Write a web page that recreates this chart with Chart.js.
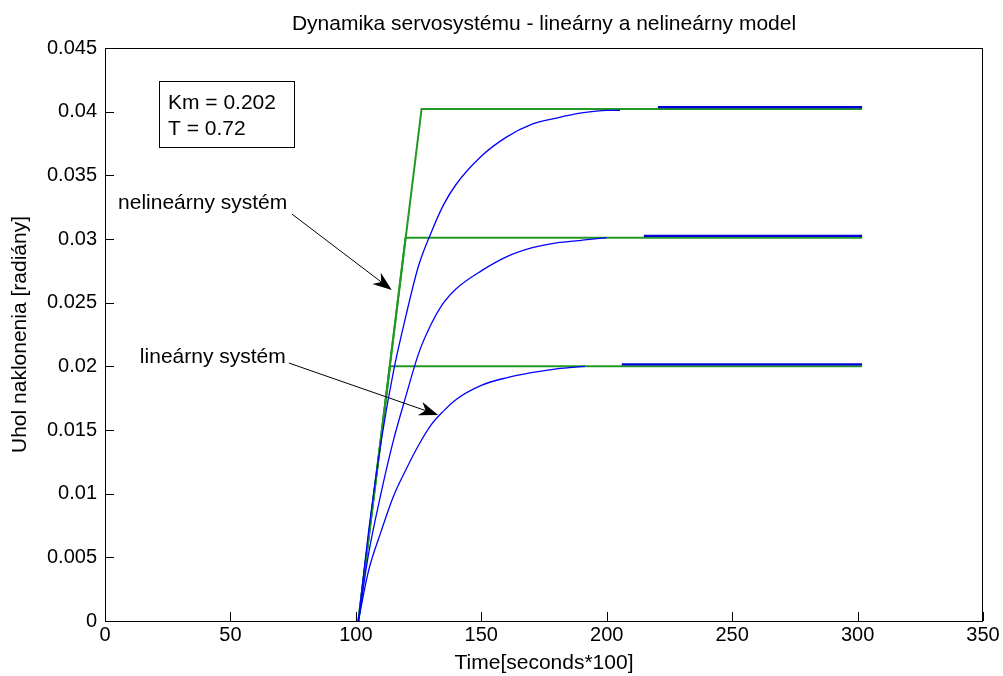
<!DOCTYPE html>
<html>
<head>
<meta charset="utf-8">
<title>Dynamika servosystému</title>
<script src="https://cdn.jsdelivr.net/npm/chart.js@4.4.1/dist/chart.umd.min.js"></script>
<style>
  html, body { margin: 0; padding: 0; background: #fff; }
  canvas { display: block; }
</style>
</head>
<body>
<canvas id="servoChart" width="1003" height="676"></canvas>
<script>
// nelineárny systém (green) - rate limited ramp, then flat
const nonlinTopX = [101, 126.2, 301.8];
const nonlinTopY = [0, 0.0402, 0.0402];
const nonlinMidX = [101, 119.8, 301.8];
const nonlinMidY = [0, 0.0301, 0.0301];
const nonlinLowX = [101, 113.6, 301.8];
const nonlinLowY = [0, 0.0200, 0.0200];

// lineárny systém (blue)
const linTopX = [101, 103, 105, 110, 115, 120, 125, 130, 135, 140, 150, 160, 170, 180, 190, 200, 205.3];
const linTopY = [0, 0.0035, 0.0069, 0.0140, 0.0196, 0.0240, 0.0279, 0.0305, 0.0327, 0.0343, 0.0365, 0.0380, 0.0390, 0.0395, 0.0399, 0.0401, 0.0401];
const linMidX = [101, 105, 110, 115, 120, 125, 130, 135, 140, 150, 160, 170, 180, 190, 200];
const linMidY = [0, 0.0052, 0.0100, 0.0142, 0.0177, 0.0210, 0.0233, 0.0250, 0.0261, 0.0275, 0.0286, 0.0293, 0.0297, 0.0299, 0.0301];
const linLowX = [101, 105, 110, 115, 120, 125, 130, 135, 140, 150, 160, 170, 180, 191.3];
const linLowY = [0, 0.0039, 0.0070, 0.0098, 0.0119, 0.0138, 0.0154, 0.0165, 0.0174, 0.0185, 0.0191, 0.0195, 0.0198, 0.0200];

// flat ends of the blue curves (drawn over the green)
const linTopTailX = [220.4, 301.8];
const linTopTailY = [0.04035, 0.04035];
const linMidTailX = [214.8, 301.8];
const linMidTailY = [0.03024, 0.03024];
const linLowTailX = [206, 301.8];
const linLowTailY = [0.02016, 0.02016];

const xTicks = [0, 50, 100, 150, 200, 250, 300, 350];
const xTickLabels = ['0', '50', '100', '150', '200', '250', '300', '350'];
const yTicks = [0, 0.005, 0.01, 0.015, 0.02, 0.025, 0.03, 0.035, 0.04, 0.045];
const yTickLabels = ['0', '0.005', '0.01', '0.015', '0.02', '0.025', '0.03', '0.035', '0.04', '0.045'];

const chartTitle = 'Dynamika servosystému - lineárny a nelineárny model';
const xTitle = 'Time[seconds*100]';
const yTitle = 'Uhol naklonenia [radiány]';
const boxLines = ['Km = 0.202', 'T = 0.72'];

const FONT = "'Liberation Sans', Arial, sans-serif";

// annotation placement in data units
const notes = {
  box: { x0: 21.5, y0: 0.04241, x1: 75.3, y1: 0.03723, textX: 25.1, lineY: [0.04068, 0.03864] },
  arrows: [
    { text: 'nelineárny systém', tx: 5.2, ty: 0.03283, from: [74.5, 0.03196], to: [114.3, 0.0260] },
    { text: 'lineárny systém', tx: 13.9, ty: 0.02073, from: [73.3, 0.02026], to: [132.8, 0.01618] }
  ]
};

function pts(xs, ys) {
  return xs.map((x, i) => ({ x, y: ys[i] }));
}

function line(data, color, width, smooth) {
  return {
    data,
    borderColor: color,
    borderWidth: width,
    pointRadius: 0,
    tension: 0,
    cubicInterpolationMode: smooth ? 'monotone' : 'default',
    fill: false
  };
}

const frame = {
  id: 'frame',
  afterDraw(chart) {
    const { ctx, chartArea: a, scales } = chart;
    ctx.save();
    ctx.strokeStyle = '#000';
    ctx.lineWidth = 1;
    ctx.strokeRect(Math.round(a.left) + 0.5, Math.round(a.top) + 0.5,
      Math.round(a.right - a.left) - 1, Math.round(a.bottom - a.top));

    // inward ticks
    ctx.beginPath();
    xTicks.forEach(v => {
      const px = Math.round(scales.x.getPixelForValue(v)) + 0.5;
      ctx.moveTo(px, a.bottom);
      ctx.lineTo(px, a.bottom - 9);
    });
    yTicks.forEach(v => {
      const py = Math.round(scales.y.getPixelForValue(v)) + 0.5;
      ctx.moveTo(a.left, py);
      ctx.lineTo(a.left + 9, py);
    });
    ctx.stroke();

    // title
    ctx.fillStyle = '#000';
    ctx.font = '21px ' + FONT;
    ctx.textAlign = 'center';
    ctx.textBaseline = 'middle';
    ctx.fillText(chartTitle, (a.left + a.right) / 2, 24);

    // parameter box
    const X = v => scales.x.getPixelForValue(v);
    const Y = v => scales.y.getPixelForValue(v);
    const b = notes.box;
    ctx.strokeRect(Math.round(X(b.x0)) + 0.5, Math.round(Y(b.y0)) + 0.5,
      Math.round(X(b.x1) - X(b.x0)), Math.round(Y(b.y1) - Y(b.y0)));
    ctx.textAlign = 'left';
    boxLines.forEach((t, i) => ctx.fillText(t, X(b.textX), Y(b.lineY[i])));

    // labelled arrows
    notes.arrows.forEach(n => {
      ctx.fillText(n.text, X(n.tx), Y(n.ty));
      const x0 = X(n.from[0]), y0 = Y(n.from[1]);
      const x1 = X(n.to[0]), y1 = Y(n.to[1]);
      const ang = Math.atan2(y1 - y0, x1 - x0);
      const ux = Math.cos(ang), uy = Math.sin(ang);
      const L = 19, W = 7;
      ctx.beginPath();
      ctx.moveTo(x0, y0);
      ctx.lineTo(x1 - ux * L * 0.7, y1 - uy * L * 0.7);
      ctx.stroke();
      ctx.beginPath();
      ctx.moveTo(x1, y1);
      ctx.lineTo(x1 - ux * L - uy * W, y1 - uy * L + ux * W);
      ctx.lineTo(x1 - ux * L * 0.7, y1 - uy * L * 0.7);
      ctx.lineTo(x1 - ux * L + uy * W, y1 - uy * L - ux * W);
      ctx.closePath();
      ctx.fill();
    });
    ctx.restore();
  }
};

const blue = '#0000ff';
const tailBlue = '#0000dd';
const green = '#229922';

new Chart(document.getElementById('servoChart'), {
  type: 'line',
  data: {
    datasets: [
      line(pts(linTopTailX, linTopTailY), tailBlue, 2.2, false),
      line(pts(linMidTailX, linMidTailY), tailBlue, 2.2, false),
      line(pts(linLowTailX, linLowTailY), tailBlue, 2.2, false),
      line(pts(linTopX, linTopY), blue, 1.3, true),
      line(pts(linMidX, linMidY), blue, 1.3, true),
      line(pts(linLowX, linLowY), blue, 1.3, true),
      line(pts(nonlinTopX, nonlinTopY), green, 2, false),
      line(pts(nonlinMidX, nonlinMidY), green, 2, false),
      line(pts(nonlinLowX, nonlinLowY), green, 2, false)
    ]
  },
  options: {
    responsive: false,
    animation: false,
    devicePixelRatio: 1,
    layout: { padding: { top: 48, right: 20, left: 0, bottom: 0 } },
    plugins: {
      legend: { display: false },
      tooltip: { enabled: false },
      title: { display: false }
    },
    scales: {
      x: {
        type: 'linear',
        min: 0,
        max: 350,
        afterBuildTicks: s => { s.ticks = xTicks.map(v => ({ value: v })); },
        afterFit: s => { s.height = 55; },
        ticks: {
          autoSkip: false,
          maxRotation: 0,
          padding: 2,
          color: '#000',
          font: { family: FONT, size: 20 },
          callback: (v, i) => xTickLabels[i]
        },
        grid: { drawOnChartArea: false, drawTicks: false },
        border: { display: false },
        title: {
          display: true,
          text: xTitle,
          color: '#000',
          font: { family: FONT, size: 21 },
          padding: { top: 0, bottom: 0 }
        }
      },
      y: {
        type: 'linear',
        min: 0,
        max: 0.045,
        afterBuildTicks: s => { s.ticks = yTicks.map(v => ({ value: v })); },
        afterFit: s => { s.width = 105; },
        ticks: {
          autoSkip: false,
          padding: 8,
          color: '#000',
          font: { family: FONT, size: 20 },
          callback: (v, i) => yTickLabels[i]
        },
        grid: { drawOnChartArea: false, drawTicks: false },
        border: { display: false },
        title: {
          display: true,
          text: yTitle,
          color: '#000',
          font: { family: FONT, size: 21 },
          padding: { top: 8, bottom: 0 }
        }
      }
    }
  },
  plugins: [frame]
});
</script>
</body>
</html>
